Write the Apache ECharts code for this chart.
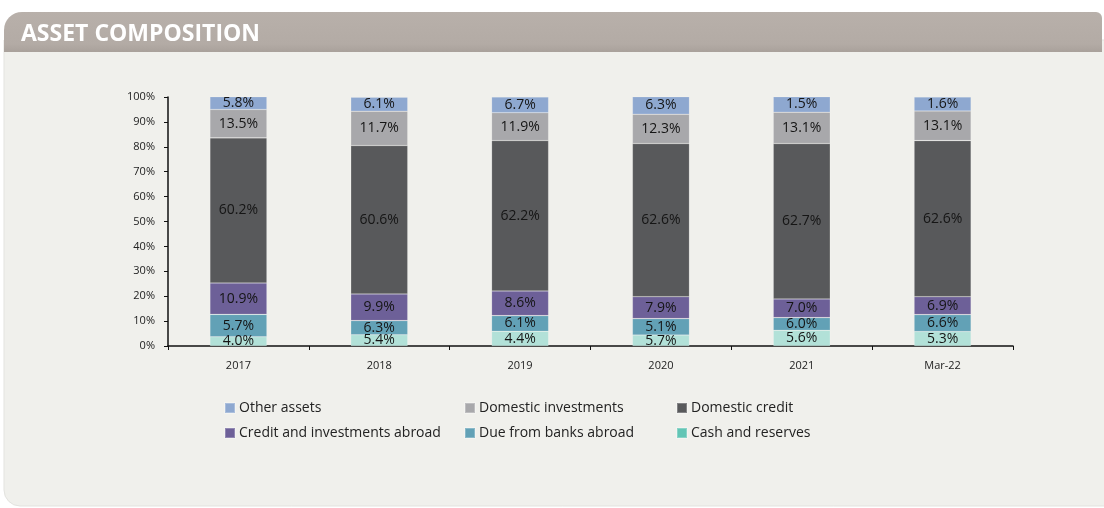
<!DOCTYPE html>
<html>
<head>
<meta charset="utf-8">
<script src="https://cdn.jsdelivr.net/npm/echarts@6/dist/echarts.min.js"></script>
<style>
html,body{margin:0;padding:0;background:#fff;}
#chart{width:1104px;height:508px;}
</style>
</head>
<body>
<div id="chart"></div>
<script>
// Categories
const categories = ['2017', '2018', '2019', '2020', '2021', 'Mar-22'];

// Segment heights as drawn in the picture (% of bar)
const cashReserves      = [3.7, 4.5, 5.9, 4.4, 6.3, 5.8];
const dueFromBanks      = [9.0, 5.7, 6.3, 6.6, 5.1, 6.8];
const creditAbroad      = [12.6, 10.7, 9.9, 8.8, 7.5, 7.2];
const domesticCredit    = [58.3, 59.6, 60.4, 61.5, 62.4, 62.7];
const domesticInvest    = [11.4, 13.8, 11.2, 11.8, 12.6, 11.9];
const otherAssets       = [5.1, 5.6, 6.3, 7.0, 6.2, 5.6];

// Printed data labels
const cashLabels        = ['4.0%', '5.4%', '4.4%', '5.7%', '5.6%', '5.3%'];
const dueLabels         = ['5.7%', '6.3%', '6.1%', '5.1%', '6.0%', '6.6%'];
const abroadLabels      = ['10.9%', '9.9%', '8.6%', '7.9%', '7.0%', '6.9%'];
const creditLabels      = ['60.2%', '60.6%', '62.2%', '62.6%', '62.7%', '62.6%'];
const investLabels      = ['13.5%', '11.7%', '11.9%', '12.3%', '13.1%', '13.1%'];
const otherLabels       = ['5.8%', '6.1%', '6.7%', '6.3%', '1.5%', '1.6%'];

const FONT = '"Open Sans", "Noto Sans", sans-serif';

function mkSeries(name, values, labels, color) {
  return {
    name: name,
    type: 'bar',
    stack: 'total',
    barWidth: 57,
    data: values,
    itemStyle: { color: color, borderColor: 'rgba(255,255,255,0.25)', borderWidth: 0.6 },
    label: {
      show: true,
      position: 'inside',
      color: '#151515',
      fontFamily: FONT,
      fontSize: 14,
      formatter: function (p) { return labels[p.dataIndex]; }
    },
    emphasis: { disabled: true }
  };
}

const seriesDefs = [
  ['Cash and reserves', cashReserves, cashLabels, '#b2e1d8', '#62c5b5'],
  ['Due from banks abroad', dueFromBanks, dueLabels, '#62a1b6', '#62a1b6'],
  ['Credit and investments abroad', creditAbroad, abroadLabels, '#6d6098', '#6d6098'],
  ['Domestic credit', domesticCredit, creditLabels, '#58595b', '#58595b'],
  ['Domestic investments', domesticInvest, investLabels, '#a8a8ab', '#a8a8ab'],
  ['Other assets', otherAssets, otherLabels, '#8ea8d0', '#8ea8d0']
];

const legendPos = {
  'Other assets': [224, 401],
  'Domestic investments': [464, 401],
  'Domestic credit': [676, 401],
  'Credit and investments abroad': [224, 426],
  'Due from banks abroad': [464, 426],
  'Cash and reserves': [676, 426]
};

const legends = seriesDefs.map(function (d) {
  const pos = legendPos[d[0]];
  return {
    left: pos[0], top: pos[1],
    padding: 0,
    itemWidth: 10, itemHeight: 10, itemGap: 4,
    selectedMode: false,
    icon: 'rect',
    textStyle: { fontFamily: FONT, fontSize: 14, color: '#222', padding: [0, 0, 0, -1] },
    data: [{ name: d[0], itemStyle: { color: d[4] } }]
  };
});

const chart = echarts.init(document.getElementById('chart'), null, { renderer: 'canvas' });
chart.setOption({
  animation: false,
  backgroundColor: '#ffffff',
  graphic: [
    {
      type: 'rect', z: -10, silent: true,
      shape: { x: 4, y: 40, width: 1130, height: 466, r: [0, 0, 0, 16] },
      style: { fill: '#f0f0ec', stroke: '#e3e3df', lineWidth: 1 }
    },
    {
      type: 'rect', z: -9, silent: true,
      shape: { x: 4, y: 12, width: 1098, height: 40, r: [18, 6, 0, 0] },
      style: {
        fill: new echarts.graphic.LinearGradient(0, 0, 0, 1, [
          { offset: 0, color: '#b8b0aa' },
          { offset: 0.8, color: '#b3aba5' },
          { offset: 1, color: '#a9a19b' }
        ])
      }
    }
  ],
  title: {
    text: 'ASSET COMPOSITION',
    left: 16, top: 18,
    textStyle: { color: '#ffffff', fontFamily: FONT, fontWeight: 'bold', fontSize: 23 }
  },
  legend: legends,
  grid: { left: 168, right: 91, top: 97, bottom: 162, containLabel: false },
  xAxis: {
    type: 'category',
    data: categories,
    axisLine: { lineStyle: { color: '#111', width: 1.5 } },
    axisTick: { show: true, length: 4, alignWithLabel: false, lineStyle: { color: '#111' } },
    axisLabel: { color: '#222', fontFamily: FONT, fontSize: 11, margin: 14 }
  },
  yAxis: {
    type: 'value',
    min: 0, max: 100, interval: 10,
    axisLine: { show: true, lineStyle: { color: '#111', width: 1.5 } },
    axisTick: { show: true, length: 4, inside: false, lineStyle: { color: '#111' } },
    splitLine: { show: false },
    axisLabel: { color: '#222', fontFamily: FONT, fontSize: 11, margin: 13, formatter: '{value}%' }
  },
  series: seriesDefs.map(function (d) { return mkSeries(d[0], d[1], d[2], d[3]); })
});
</script>
</body>
</html>
